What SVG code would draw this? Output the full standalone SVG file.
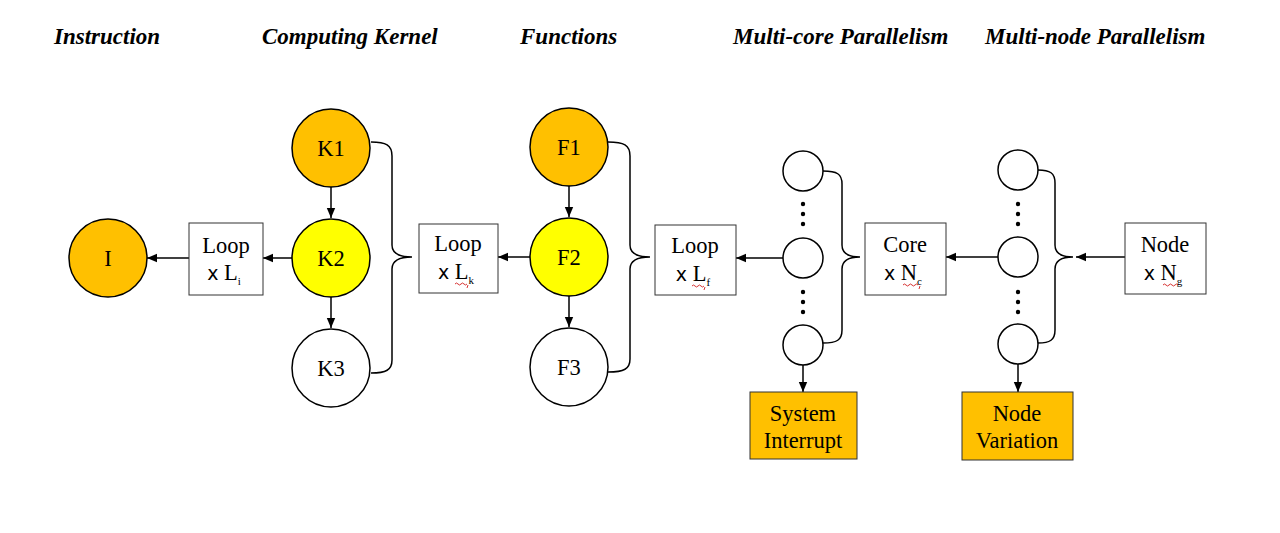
<svg xmlns="http://www.w3.org/2000/svg" width="1280" height="533" viewBox="0 0 1280 533">
<defs>
<marker id="ah" viewBox="0 0 10 10" refX="10" refY="5" markerWidth="10" markerHeight="10" markerUnits="userSpaceOnUse" orient="auto">
<path d="M0,0.8 L10,5 L0,9.2 Z" fill="#000"/>
</marker>
<style>
.hdr{font-family:"Liberation Serif",serif;font-weight:bold;font-style:italic;font-size:23px;fill:#000}
.lbl{font-family:"Liberation Serif",serif;font-size:22.5px;fill:#000;text-anchor:middle}
.x{font-family:"DejaVu Sans","Liberation Sans",sans-serif;font-size:19px}
.sub{font-size:11px}
.c{stroke:#000;stroke-width:1.5}
.or{fill:#FFC000}
.ye{fill:#FFFF00}
.wh{fill:#fff}
.box{fill:#fff;stroke:#333;stroke-width:1}
.obox{fill:#FFC000;stroke:#333;stroke-width:1}
.ln{stroke:#000;stroke-width:1.5;fill:none}
.br{stroke:#000;stroke-width:1.5;fill:none}
.dot{fill:#000}
.sq{stroke:#c00;stroke-width:0.8;fill:none}
</style>
</defs>
<rect width="1280" height="533" fill="#fff"/>

<g id="headers">
<text class="hdr" x="54" y="44">Instruction</text>
<text class="hdr" x="262" y="44">Computing Kernel</text>
<text class="hdr" x="520" y="44">Functions</text>
<text class="hdr" x="733" y="44">Multi-core Parallelism</text>
<text class="hdr" x="985" y="44">Multi-node Parallelism</text>
</g>

<g id="connectors">
<line class="ln" x1="189" y1="258" x2="147" y2="258" marker-end="url(#ah)"/>
<line class="ln" x1="292" y1="258" x2="263" y2="258" marker-end="url(#ah)"/>
<line class="ln" x1="331" y1="187" x2="331" y2="218" marker-end="url(#ah)"/>
<line class="ln" x1="331" y1="297" x2="331" y2="328" marker-end="url(#ah)"/>
<line class="ln" x1="530" y1="257" x2="498" y2="257" marker-end="url(#ah)"/>
<line class="ln" x1="569" y1="186" x2="569" y2="217" marker-end="url(#ah)"/>
<line class="ln" x1="569" y1="296" x2="569" y2="327" marker-end="url(#ah)"/>
<line class="ln" x1="783" y1="258" x2="736" y2="258" marker-end="url(#ah)"/>
<line class="ln" x1="803" y1="365" x2="803" y2="392" marker-end="url(#ah)"/>
<line class="ln" x1="998" y1="257" x2="946" y2="257" marker-end="url(#ah)"/>
<line class="ln" x1="1018" y1="364" x2="1018" y2="392" marker-end="url(#ah)"/>
<line class="ln" x1="1125" y1="257" x2="1076" y2="257" marker-end="url(#ah)"/>
<!-- braces -->
<path class="br" d="M371,142 C386,142 392,145 392,156 L392,245 C392,252 398,257 412,257 C398,257 392,262 392,269 L392,360 C392,370 386,373 371,373"/>
<path class="br" d="M608,142 C624,142 630,145 630,156 L630,245 C630,252 636,257 650,257 C636,257 630,262 630,269 L630,359 C630,369 624,372 608,372"/>
<path class="br" d="M823,171 C837,171 842,174 842,184 L842,245 C842,252 847,257 860,257 C847,257 842,262 842,269 L842,330 C842,340 837,343 823,343"/>
<path class="br" d="M1038,170 C1050,170 1055,173 1055,183 L1055,245 C1055,252 1060,257 1073,257 C1060,257 1055,262 1055,269 L1055,330 C1055,340 1050,343 1038,343"/>
</g>

<g id="node-I">
<circle class="c or" cx="108" cy="258" r="39"/>
<text class="lbl" x="108" y="266">I</text>
</g>

<g id="box-Li">
<rect class="box" x="189" y="223" width="74" height="72"/>
<text class="lbl" x="226" y="253">Loop</text>
<text class="lbl" x="224" y="280"><tspan class="x">x</tspan> L<tspan class="sub" dy="5">i</tspan></text>
</g>

<g id="node-K1"><circle class="c or" cx="331" cy="148" r="39"/><text class="lbl" x="331" y="156">K1</text></g>
<g id="node-K2"><circle class="c ye" cx="331" cy="258" r="39"/><text class="lbl" x="331" y="266">K2</text></g>
<g id="node-K3"><circle class="c wh" cx="331" cy="368" r="39"/><text class="lbl" x="331" y="376">K3</text></g>

<g id="box-Lk">
<rect class="box" x="419" y="224" width="79" height="69"/>
<text class="lbl" x="458" y="251">Loop</text>
<text class="lbl" x="456" y="279"><tspan class="x">x</tspan> L<tspan class="sub" dy="5">k</tspan></text>
<path class="sq" d="M455,284 q1.5,-2 3,0 t3,0 t3,0 t3,0 M468,285 l-1,3"/>
</g>

<g id="node-F1"><circle class="c or" cx="569" cy="147" r="39"/><text class="lbl" x="569" y="155">F1</text></g>
<g id="node-F2"><circle class="c ye" cx="569" cy="257" r="39"/><text class="lbl" x="569" y="265">F2</text></g>
<g id="node-F3"><circle class="c wh" cx="569" cy="367" r="39"/><text class="lbl" x="569" y="375">F3</text></g>

<g id="box-Lf">
<rect class="box" x="655" y="225" width="81" height="70"/>
<text class="lbl" x="695" y="253">Loop</text>
<text class="lbl" x="693" y="281"><tspan class="x">x</tspan> L<tspan class="sub" dy="5">f</tspan></text>
<path class="sq" d="M692,286 q1.5,-2 3,0 t3,0 t3,0 t3,0 M705,287 l-1,3"/>
</g>

<g id="cores">
<circle class="c wh" cx="803" cy="171" r="20"/>
<circle class="dot" cx="803" cy="204" r="2.2"/>
<circle class="dot" cx="803" cy="214" r="2.2"/>
<circle class="dot" cx="803" cy="224" r="2.2"/>
<circle class="c wh" cx="803" cy="258" r="20"/>
<circle class="dot" cx="803" cy="292" r="2.2"/>
<circle class="dot" cx="803" cy="302" r="2.2"/>
<circle class="dot" cx="803" cy="312" r="2.2"/>
<circle class="c wh" cx="803" cy="345" r="20"/>
</g>

<g id="box-SI">
<rect class="obox" x="750" y="392" width="107" height="67"/>
<text class="lbl" x="803" y="421">System</text>
<text class="lbl" x="803" y="448">Interrupt</text>
</g>

<g id="box-Nc">
<rect class="box" x="865" y="223" width="81" height="72"/>
<text class="lbl" x="905" y="252">Core</text>
<text class="lbl" x="903" y="280"><tspan class="x">x</tspan> N<tspan class="sub" dy="5">c</tspan></text>
<path class="sq" d="M903,285 q1.5,-2 3,0 t3,0 t3,0 t3,0 t3,0 M920,286 l-1,3"/>
</g>

<g id="nodes">
<circle class="c wh" cx="1018" cy="170" r="20"/>
<circle class="dot" cx="1018" cy="204" r="2.2"/>
<circle class="dot" cx="1018" cy="214" r="2.2"/>
<circle class="dot" cx="1018" cy="224" r="2.2"/>
<circle class="c wh" cx="1018" cy="257" r="20"/>
<circle class="dot" cx="1018" cy="292" r="2.2"/>
<circle class="dot" cx="1018" cy="302" r="2.2"/>
<circle class="dot" cx="1018" cy="312" r="2.2"/>
<circle class="c wh" cx="1018" cy="344" r="20"/>
</g>

<g id="box-NV">
<rect class="obox" x="962" y="392" width="111" height="68"/>
<text class="lbl" x="1017" y="421">Node</text>
<text class="lbl" x="1017" y="448">Variation</text>
</g>

<g id="box-Ng">
<rect class="box" x="1125" y="223" width="81" height="71"/>
<text class="lbl" x="1165" y="252">Node</text>
<text class="lbl" x="1163" y="280"><tspan class="x">x</tspan> N<tspan class="sub" dy="5">g</tspan></text>
<path class="sq" d="M1163,285 q1.5,-2 3,0 t3,0 t3,0 t3,0 t3,0"/>
</g>
</svg>
